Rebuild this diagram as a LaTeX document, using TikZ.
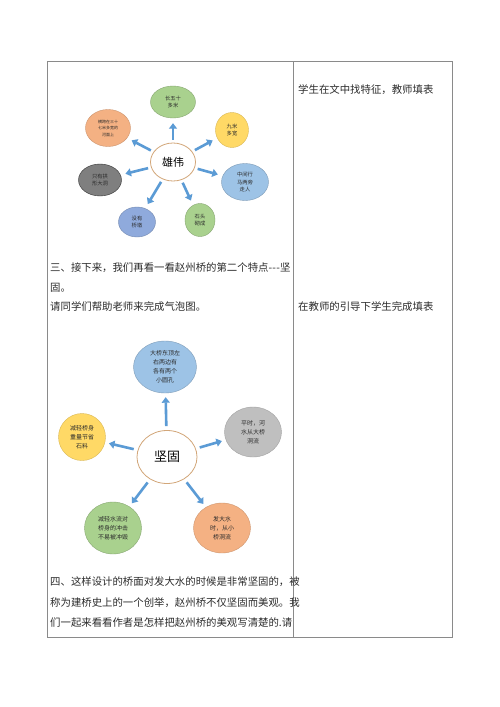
\documentclass[tikz,border=0pt]{standalone}
\usepackage{fontspec}
\setmainfont{Noto Sans CJK SC}
\usetikzlibrary{shapes.geometric,arrows.meta}
\definecolor{bgreen}{HTML}{A9D18E}
\definecolor{byellow}{HTML}{FFD966}
\definecolor{bblue}{HTML}{9DC3E6}
\definecolor{bpurple}{HTML}{8FAADC}
\definecolor{bdgray}{HTML}{7F7F7F}
\definecolor{bsalmon}{HTML}{F4B183}
\definecolor{blgray}{HTML}{BFBFBF}
\definecolor{ctr}{HTML}{D2A679}
\definecolor{arr}{HTML}{5B9BD5}
\definecolor{tline}{HTML}{8A8A8A}
\definecolor{txt}{HTML}{2B2B2B}
\tikzset{
  bub/.style={ellipse,inner sep=0pt,align=center,text=txt,font=\fontsize{5.3}{7.8}\selectfont},
  bubB/.style={ellipse,inner sep=0pt,align=center,text=txt,font=\fontsize{6}{9}\selectfont},
  ctrbub/.style={ellipse,draw=ctr,line width=0.8pt,fill=white,inner sep=0pt},
  barrow/.style={draw=arr,line width=2.6pt,-{Triangle[length=5.5pt,width=8pt]},shorten <=3pt,shorten >=5pt},
  body/.style={anchor=west,inner sep=0pt,text=txt,font=\fontsize{10.4}{12}\selectfont},
  tab/.style={draw=tline,line width=0.8pt}
}
\begin{document}
\begin{tikzpicture}[x=1pt,y=-1pt]
\useasboundingbox (0,0) rectangle (500,707);
\fill[white] (0,0) rectangle (500,707);
% table
\coordinate (tl) at (47,61);
\coordinate (br) at (452,637);
\coordinate (dt) at (293,61);
\coordinate (db) at (293,637);
\draw[tab] (tl) rectangle (br);
\draw[tab] (dt) -- (db);
% right column text
\node[body] (r1) at (298,90) {学生在文中找特征，教师填表};
\node[body] (r2) at (298,307) {在教师的引导下学生完成填表};
% left column text
\node[body] (l1) at (50,268) {三、接下来，我们再看一看赵州桥的第二个特点-\kern0.3pt-\kern0.3pt-坚};
\node[body] (l2) at (50,288) {固。};
\node[body] (l3) at (50,307) {请同学们帮助老师来完成气泡图。};
\node[body] (l4) at (50,582) {四、这样设计的桥面对发大水的时候是非常坚固的，被};
\node[body] (l5) at (50,603) {称为建桥史上的一个创举，赵州桥不仅坚固而美观。我};
\node[body] (l6) at (50,623) {们一起来看看作者是怎样把赵州桥的美观写清楚的.请};
% ---- top bubble diagram ----
\node[ctrbub,minimum width=45pt,minimum height=38pt,font=\fontsize{11}{13}\selectfont] (c1) at (173,162) {雄伟};
\node[bub,fill=bgreen,draw=bgreen!80!black,minimum width=45pt,minimum height=32pt] (t1) at (173,102) {长五十\\多米};
\node[bub,fill=byellow,draw=byellow!85!black,minimum width=33pt,minimum height=35pt] (t2) at (232,130) {九米\\多宽};
\node[bub,fill=bblue,draw=bblue!80!black,minimum width=47pt,minimum height=37pt] (t3) at (245,182) {中间行\\马两旁\\走人};
\node[bub,fill=bgreen,draw=bgreen!80!black,minimum width=30pt,minimum height=33pt] (t4) at (200,220) {石头\\砌成};
\node[bub,fill=bpurple,draw=bpurple!80!black,minimum width=37pt,minimum height=30pt] (t5) at (137,222) {没有\\桥墩};
\node[bub,fill=bdgray,draw=black!80,minimum width=43pt,minimum height=32pt] (t6) at (100,180) {只有拱\\形大洞};
\node[bub,fill=bsalmon,draw=bsalmon!85!black,minimum width=45pt,minimum height=37pt,font=\fontsize{4}{6.5}\selectfont] (t7) at (108,128) {横跨在三十\\七米多宽的\\河面上};
\foreach \n in {t1,t2,t3,t4,t5,t6,t7} \draw[barrow] (c1) -- (\n);
% ---- bottom bubble diagram ----
\node[ctrbub,minimum width=60pt,minimum height=53pt,font=\fontsize{13}{15}\selectfont] (c2) at (167,457) {坚固};
\node[bubB,fill=bblue,draw=bblue!80!black,minimum width=63pt,minimum height=52pt] (b1) at (165,367) {大桥东顶左\\右两边有\\各有两个\\小圆孔};
\node[bubB,fill=blgray,draw=blgray!85!black,minimum width=57pt,minimum height=50pt] (b2) at (253,432) {平时，河\\水从大桥\\洞流};
\node[bubB,fill=bsalmon,draw=bsalmon!85!black,minimum width=57pt,minimum height=50pt] (b3) at (222,528) {发大水\\时，从小\\桥洞流};
\node[bubB,fill=bgreen,draw=bgreen!80!black,minimum width=57pt,minimum height=52pt] (b4) at (113,528) {减轻水流对\\桥身的冲击\\不易被冲毁};
\node[bubB,fill=byellow,draw=byellow!85!black,minimum width=47pt,minimum height=47pt] (b5) at (82,437) {减轻桥身\\重量节省\\石料};
\foreach \n in {b1,b2,b3,b4,b5} \draw[barrow,shorten <=4pt,shorten >=4pt] (c2) -- (\n);
\end{tikzpicture}
\end{document}
